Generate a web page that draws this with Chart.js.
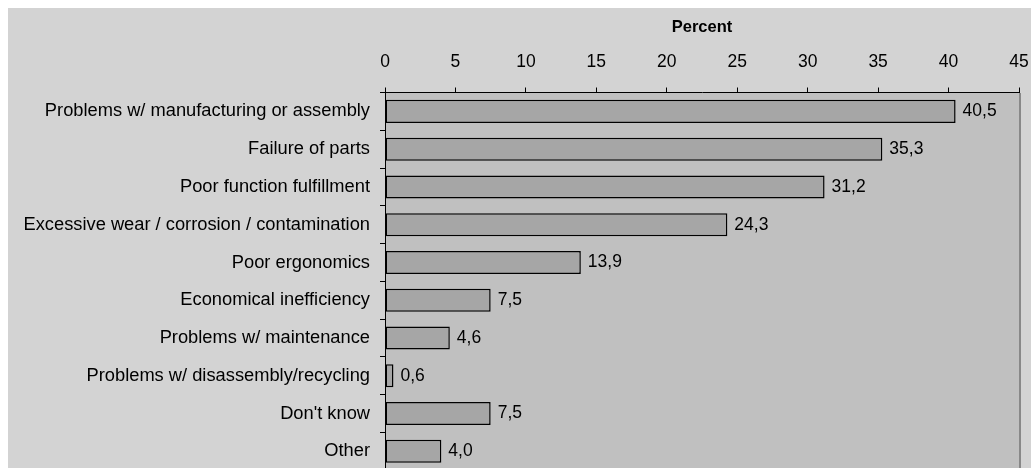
<!DOCTYPE html>
<html>
<head>
<meta charset="utf-8">
<script src="https://cdn.jsdelivr.net/npm/chart.js@4/dist/chart.umd.min.js"></script>
<style>
  html, body { margin: 0; padding: 0; background: #ffffff; overflow: hidden; }
  #wrap { position: absolute; left: 8px; top: 8px; width: 1023px; height: 480px; background: #d3d3d3; }
  canvas { display: block; }
</style>
</head>
<body>
<div id="wrap"><canvas id="chart" width="1023" height="480"></canvas></div>
<script>
// Reasons reported, share of respondents in percent
const categories = [
  "Problems w/ manufacturing or assembly",
  "Failure of parts",
  "Poor function fulfillment",
  "Excessive wear / corrosion / contamination",
  "Poor ergonomics",
  "Economical inefficiency",
  "Problems w/ maintenance",
  "Problems w/ disassembly/recycling",
  "Don't know",
  "Other"
];
const percentValues = [40.5, 35.3, 31.2, 24.3, 13.9, 7.5, 4.6, 0.6, 7.5, 4.0];
const axisTitle = "Percent";
const axisMin = 0;
const axisMax = 45;
const axisStep = 5;

Chart.defaults.font.family = "'Liberation Sans', Arial, sans-serif";
Chart.defaults.color = "#000000";

// Grey plot area plus the grey right-hand frame line
const plotBackground = {
  id: 'plotBackground',
  beforeDraw(chart) {
    const { ctx, chartArea: a } = chart;
    ctx.save();
    ctx.fillStyle = '#c0c0c0';
    ctx.fillRect(a.left, a.top, a.right - a.left, a.bottom - a.top + 20);
    ctx.restore();
  },
  afterDraw(chart) {
    const { ctx, chartArea: a } = chart;
    ctx.save();
    ctx.strokeStyle = '#888888';
    ctx.lineWidth = 2;
    ctx.beginPath();
    ctx.moveTo(a.right + 1, a.top + 0.5);
    ctx.lineTo(a.right + 1, a.bottom + 20);
    ctx.stroke();
    ctx.restore();
  }
};

// Value printed to the right of each bar, with a decimal comma
const valueLabels = {
  id: 'valueLabels',
  afterDatasetsDraw(chart) {
    const { ctx } = chart;
    const meta = chart.getDatasetMeta(0);
    const data = chart.data.datasets[0].data;
    ctx.save();
    ctx.font = "17.5px 'Liberation Sans', Arial, sans-serif";
    ctx.fillStyle = '#000000';
    ctx.textAlign = 'left';
    ctx.textBaseline = 'middle';
    meta.data.forEach((bar, i) => {
      const txt = data[i].toFixed(1).replace('.', ',');
      ctx.fillText(txt, bar.x + 7, bar.y);
    });
    ctx.restore();
  }
};

new Chart(document.getElementById('chart'), {
  type: 'bar',
  data: {
    labels: categories,
    datasets: [{
      data: percentValues,
      backgroundColor: '#a6a6a6',
      borderColor: '#000000',
      borderWidth: 1.5,
      borderSkipped: false,
      barPercentage: 0.61,
      categoryPercentage: 1.0
    }]
  },
  options: {
    indexAxis: 'y',
    responsive: false,
    animation: false,
    layout: { padding: { left: 0, right: 0, top: 0, bottom: 17.8 } },
    plugins: {
      legend: { display: false },
      tooltip: { enabled: false }
    },
    scales: {
      x: {
        position: 'top',
        min: axisMin,
        max: axisMax,
        afterFit(scale) {
          scale.height = 84.5;
          scale.paddingLeft = 0;
          scale.paddingRight = 12;
        },
        ticks: {
          stepSize: axisStep,
          padding: 14.5,
          font: { size: 17.5 },
          color: '#000000'
        },
        grid: {
          drawOnChartArea: false,
          drawTicks: true,
          tickLength: 5,
          color: '#000000'
        },
        border: { display: true, color: '#000000', width: 1 },
        title: {
          display: true,
          text: axisTitle,
          font: { size: 16.5, weight: 'bold' },
          color: '#000000',
          padding: { top: 10, bottom: 0 }
        }
      },
      y: {
        afterFit(scale) {
          scale.width = 377;
          scale.paddingTop = 0;
          scale.paddingBottom = 0;
        },
        ticks: {
          padding: 10,
          font: { size: 18.3 },
          color: '#000000',
          autoSkip: false
        },
        grid: {
          offset: true,
          drawOnChartArea: false,
          drawTicks: true,
          tickLength: 5,
          color: '#000000'
        },
        border: { display: true, color: '#000000', width: 1 }
      }
    }
  },
  plugins: [plotBackground, valueLabels]
});
</script>
</body>
</html>
